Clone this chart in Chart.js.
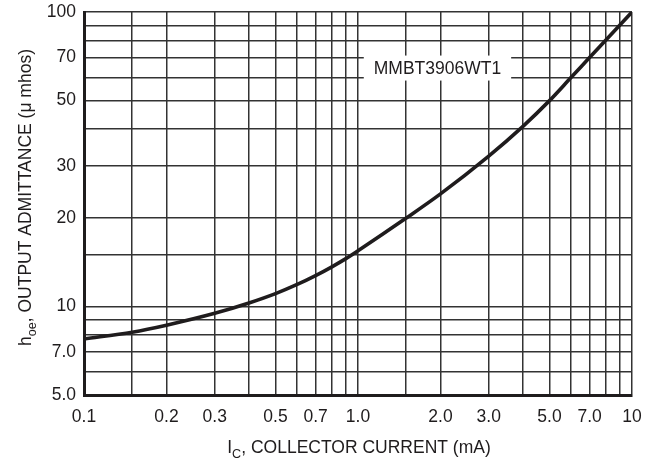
<!DOCTYPE html>
<html>
<head>
<meta charset="utf-8">
<script src="https://cdn.jsdelivr.net/npm/chart.js@4.4.0/dist/chart.umd.min.js"></script>
<style>
  html,body{margin:0;padding:0;background:#fff;}
  #wrap{width:662px;height:458px;}
</style>
</head>
<body>
<div id="wrap"><canvas id="hoeChart" width="662" height="458"></canvas></div>
<script>
// collector current (mA) vs output admittance (umhos)
const icValues=[0.1,0.15,0.2,0.3,0.4,0.5,0.6,0.7,0.8,0.9,1.0,1.5,2,3,4,5,6,7,8,9,10];
const hoeValues=[7.75,8.17,8.63,9.47,10.27,11.05,11.87,12.72,13.6,14.5,15.45,19.95,24.1,32.4,40.9,50,60,70,80,90,100];

// grid lines + labelled ticks
const xGrid=[0.1,0.15,0.2,0.3,0.4,0.5,0.6,0.7,0.8,0.9,1,1.5,2,3,4,5,6,7,8,9,10];
const xTickValues=[0.1,0.2,0.3,0.5,0.7,1,2,3,5,7,10];
const xTickLabels=["0.1","0.2","0.3","0.5","0.7","1.0","2.0","3.0","5.0","7.0","10"];
const yGrid=[5,6,7,8,9,10,15,20,30,40,50,60,70,80,90,100];
const yTickValues=[5,7,10,20,30,50,70,100];
const yTickLabels=["5.0","7.0","10","20","30","50","70","100"];

const seriesName="MMBT3906WT1";
const seriesLabelAt={x:1.95,y:64.5};

const FONT="'Liberation Sans', Arial, sans-serif";
const INK="#1f1c1d";

// text with subscripts, parts = [[text, isSub], ...]
function drawParts(ctx,parts,cx,baseY,size){
  let total=0;
  parts.forEach(p=>{ ctx.font=(p[1]?size*0.72:size)+"px "+FONT; total+=ctx.measureText(p[0]).width; });
  let x=cx-total/2;
  ctx.textAlign="left"; ctx.textBaseline="alphabetic";
  parts.forEach(p=>{
    ctx.font=(p[1]?size*0.72:size)+"px "+FONT;
    ctx.fillText(p[0],x,baseY+(p[1]?5:0));
    x+=ctx.measureText(p[0]).width;
  });
}

const extras={
  id:"extras",
  afterDatasetsDraw(chart){
    const ctx=chart.ctx, xs=chart.scales.x, ys=chart.scales.y;
    // series name in a white box over the grid
    const px=xs.getPixelForValue(seriesLabelAt.x), py=ys.getPixelForValue(seriesLabelAt.y);
    ctx.save();
    ctx.font="17.5px "+FONT;
    const w=ctx.measureText(seriesName).width;
    ctx.fillStyle="#fff";
    ctx.fillRect(px-w/2-10,py-12.5,w+20,25);
    ctx.fillStyle=INK; ctx.textAlign="center"; ctx.textBaseline="middle";
    ctx.fillText(seriesName,px,py+1);
    ctx.restore();
  },
  afterDraw(chart){
    const ctx=chart.ctx;
    ctx.save();
    ctx.fillStyle=INK;
    drawParts(ctx,[["I",false],["C",true],[", COLLECTOR CURRENT (mA)",false]],359,453,17.5);
    ctx.translate(31,197.5);
    ctx.rotate(-Math.PI/2);
    drawParts(ctx,[["h",false],["oe",true],[", OUTPUT ADMITTANCE (\u03bc mhos)",false]],0,0,17.5);
    ctx.restore();
  }
};

const ctx=document.getElementById("hoeChart").getContext("2d");
const hoeChart=new Chart(ctx,{
  type:"line",
  data:{datasets:[{
    label:seriesName,
    data:icValues.map((v,i)=>({x:v,y:hoeValues[i]})),
    borderColor:INK, borderWidth:3.6, pointRadius:0, fill:false,
    cubicInterpolationMode:"monotone"
  }]},
  options:{
    responsive:false, animation:false, devicePixelRatio:1,
    layout:{padding:{top:12,right:30,left:0,bottom:0}},
    plugins:{legend:{display:false},tooltip:{enabled:false}},
    scales:{
      x:{
        type:"logarithmic", min:0.1, max:10,
        afterBuildTicks:s=>{ s.ticks=xGrid.map(v=>({value:v})); },
        afterFit:s=>{ s.height=63; s.paddingLeft=0; s.paddingRight=0; },
        grid:{color:"#333",lineWidth:1.5,drawTicks:false},
        border:{color:INK,width:3},
        ticks:{autoSkip:false,maxRotation:0,minRotation:0,padding:12,color:INK,font:{family:FONT,size:17.5},
          callback:v=>{ const i=xTickValues.indexOf(v); return i<0?"":xTickLabels[i]; }}
      },
      y:{
        type:"logarithmic", min:5, max:100,
        afterBuildTicks:s=>{ s.ticks=yGrid.map(v=>({value:v})); },
        afterFit:s=>{ s.width=84; s.paddingTop=0; s.paddingBottom=0; },
        grid:{color:"#333",lineWidth:1.5,drawTicks:false},
        border:{color:INK,width:3},
        ticks:{autoSkip:false,padding:8,color:INK,font:{family:FONT,size:17.5},
          callback:v=>{ const i=yTickValues.indexOf(v); return i<0?"":yTickLabels[i]; }}
      }
    }
  },
  plugins:[extras]
});
</script>
</body>
</html>
